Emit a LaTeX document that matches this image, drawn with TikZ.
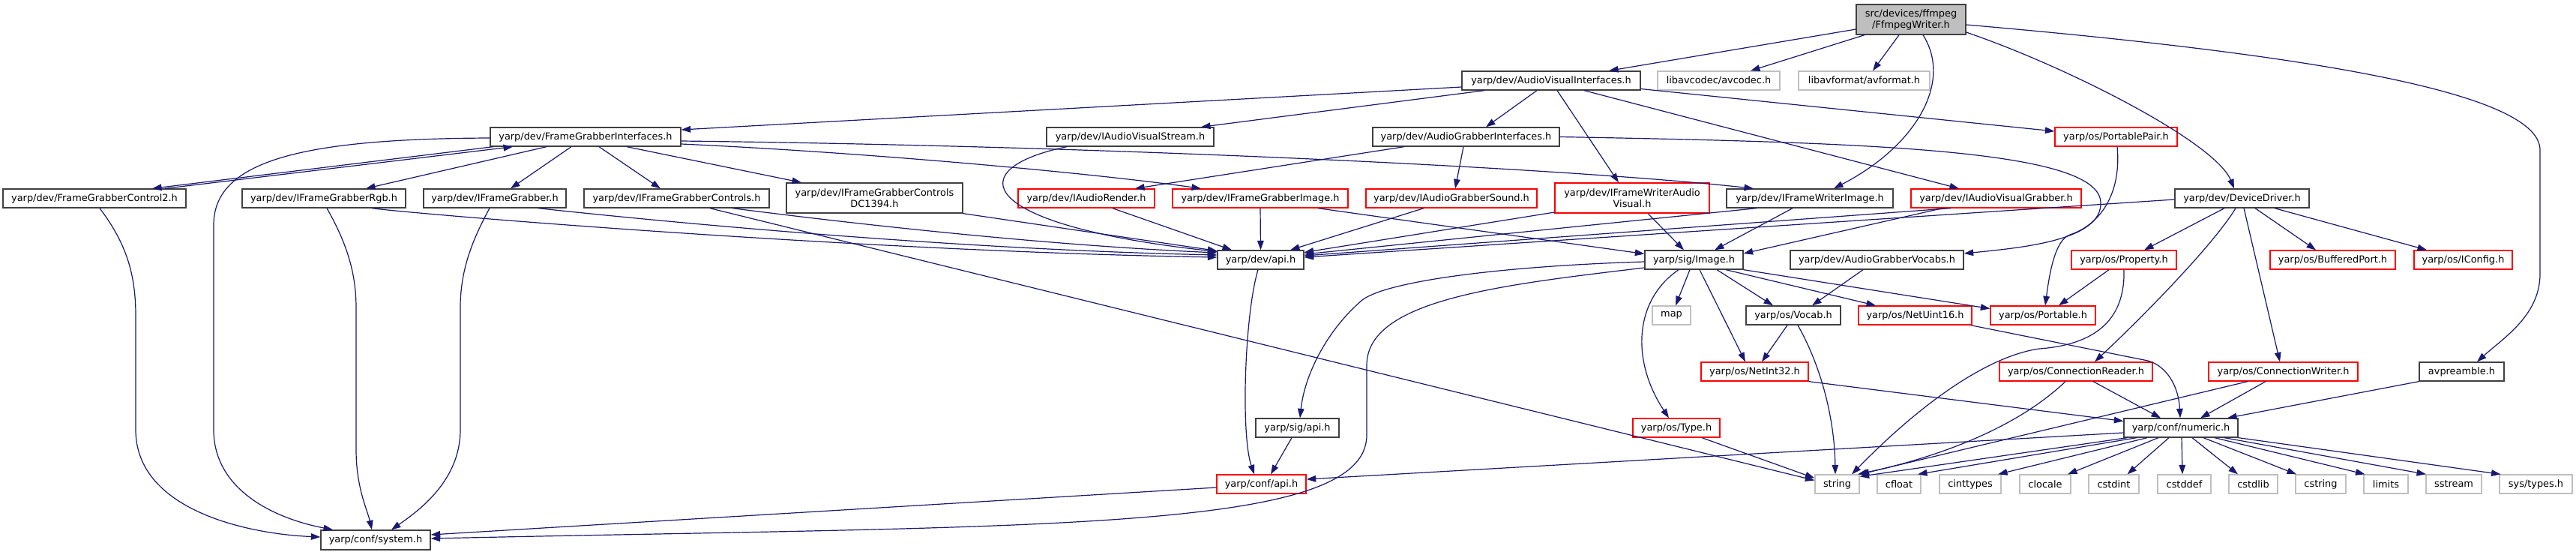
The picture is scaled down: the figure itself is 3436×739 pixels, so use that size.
\documentclass[tikz,border=0pt]{standalone}
\usepackage{fontspec}
\setmainfont{DejaVu Sans}
\usetikzlibrary{arrows.meta}
\definecolor{edgec}{HTML}{191970}
\definecolor{bord}{HTML}{404040}
\definecolor{redb}{HTML}{FF0000}
\definecolor{greyb}{HTML}{BFBFBF}
\newcommand\fs{\fontsize{12.9}{15}\selectfont}
\tikzset{
  box/.style={draw, line width=1.3pt, inner sep=0pt, font=\fs, align=center, minimum height=25pt, fill=white},
  bk/.style={box, draw=bord},
  rd/.style={box, draw=redb},
  gy/.style={box, draw=greyb},
  rootbox/.style={box, draw=bord, fill=greyb, minimum height=40pt},
  e/.style={draw=edgec, line width=1.2pt, -{Triangle[length=12.5pt,width=8.6pt]}},
}
\begin{document}
\begin{tikzpicture}[x=1pt,y=-1pt]
\fill[white] (0,0) rectangle (3436,739);
\useasboundingbox (0,0) rectangle (3436,739);
% row 0
\node[rootbox, minimum width=146pt] (root) at (2549,26) {src/devices/ffmpeg\\/FfmpegWriter.h};
% row 1
\node[bk, minimum width=238pt] (avi) at (2069,107.5) {yarp/dev/AudioVisualInterfaces.h};
\node[gy, minimum width=163pt] (avcodec) at (2292.5,107.5) {libavcodec/avcodec.h};
\node[gy, minimum width=175pt] (avformat) at (2486.5,107.5) {libavformat/avformat.h};
% row 2
\node[bk, minimum width=254pt] (fgi) at (781,182.5) {yarp/dev/FrameGrabberInterfaces.h};
\node[bk, minimum width=223pt] (iavs) at (1507.5,182.5) {yarp/dev/IAudioVisualStream.h};
\node[bk, minimum width=249pt] (agi) at (1955.5,182.5) {yarp/dev/AudioGrabberInterfaces.h};
\node[rd, minimum width=163pt] (pp) at (2822.5,182.5) {yarp/os/PortablePair.h};
% row 3
\node[bk, minimum width=244pt] (fgc2) at (126,264.5) {yarp/dev/FrameGrabberControl2.h};
\node[bk, minimum width=218pt] (fgrgb) at (432,264.5) {yarp/dev/IFrameGrabberRgb.h};
\node[bk, minimum width=190pt] (fg) at (660,264.5) {yarp/dev/IFrameGrabber.h};
\node[bk, minimum width=247pt] (fgc) at (902.5,264.5) {yarp/dev/IFrameGrabberControls.h};
\node[bk, minimum width=235pt, minimum height=40pt] (dc) at (1166.5,264) {yarp/dev/IFrameGrabberControls\\DC1394.h};
\node[rd, minimum width=182pt] (ar) at (1449,264.5) {yarp/dev/IAudioRender.h};
\node[rd, minimum width=234pt] (fgimg) at (1681,264.5) {yarp/dev/IFrameGrabberImage.h};
\node[rd, minimum width=228pt] (ags) at (1936,264.5) {yarp/dev/IAudioGrabberSound.h};
\node[rd, minimum width=206pt, minimum height=40pt] (fwav) at (2177,264) {yarp/dev/IFrameWriterAudio\\Visual.h};
\node[bk, minimum width=222pt] (fwi) at (2414,264.5) {yarp/dev/IFrameWriterImage.h};
\node[rd, minimum width=227pt] (avg) at (2662.5,264.5) {yarp/dev/IAudioVisualGrabber.h};
\node[bk, minimum width=179pt] (dd) at (2990.5,264.5) {yarp/dev/DeviceDriver.h};
% row 4
\node[bk, minimum width=115pt] (devapi) at (1681.5,346.5) {yarp/dev/api.h};
\node[bk, minimum width=131pt] (img) at (2259.5,346.5) {yarp/sig/Image.h};
\node[bk, minimum width=231pt] (agv) at (2503.5,346.5) {yarp/dev/AudioGrabberVocabs.h};
\node[rd, minimum width=140pt] (prop) at (2833,346.5) {yarp/os/Property.h};
\node[rd, minimum width=167pt] (bp) at (3111.5,346.5) {yarp/os/BufferedPort.h};
\node[rd, minimum width=131pt] (icfg) at (3285.5,346.5) {yarp/os/IConfig.h};
% row 5
\node[gy, minimum width=51pt] (map) at (2229.5,420.5) {map};
\node[bk, minimum width=126pt] (vocab) at (2392,420.5) {yarp/os/Vocab.h};
\node[rd, minimum width=151pt] (nu16) at (2554.5,420.5) {yarp/os/NetUint16.h};
\node[rd, minimum width=140pt] (portable) at (2725,420.5) {yarp/os/Portable.h};
% row 6
\node[rd, minimum width=143pt] (ni32) at (2340.5,495.5) {yarp/os/NetInt32.h};
\node[rd, minimum width=204pt] (cr) at (2769,495.5) {yarp/os/ConnectionReader.h};
\node[rd, minimum width=199pt] (cw) at (3045.5,495.5) {yarp/os/ConnectionWriter.h};
\node[bk, minimum width=113pt] (avp) at (3283.5,495.5) {avpreamble.h};
% row 7
\node[bk, minimum width=111pt] (sigapi) at (1730.5,570.5) {yarp/sig/api.h};
\node[rd, minimum width=116pt] (type) at (2236,570.5) {yarp/os/Type.h};
\node[bk, minimum width=152pt] (numeric) at (2909,570.5) {yarp/conf/numeric.h};
% row 8
\node[rd, minimum width=119pt] (confapi) at (1682.5,645.5) {yarp/conf/api.h};
\node[gy, minimum width=59pt] (string) at (2450.5,645.5) {string};
\node[gy, minimum width=58pt] (cfloat) at (2533,645.5) {cfloat};
\node[gy, minimum width=82pt] (cinttypes) at (2628,645.5) {cinttypes};
\node[gy, minimum width=68pt] (clocale) at (2728,645.5) {clocale};
\node[gy, minimum width=67pt] (cstdint) at (2819.5,645.5) {cstdint};
\node[gy, minimum width=71pt] (cstddef) at (2913.5,645.5) {cstddef};
\node[gy, minimum width=65pt] (cstdlib) at (3005.5,645.5) {cstdlib};
\node[gy, minimum width=67pt] (cstring) at (3095.5,645.5) {cstring};
\node[gy, minimum width=59pt] (limits) at (3182.5,645.5) {limits};
\node[gy, minimum width=74pt] (sstream) at (3273,645.5) {sstream};
\node[gy, minimum width=97pt] (systypes) at (3382.5,645.5) {sys/types.h};
% row 9
\node[bk, minimum width=146pt, minimum height=26pt] (system) at (501,720) {yarp/conf/system.h};

% ---- edges ----
% root
\draw[e] ([yshift=-13pt]root.west) -- ([xshift=77pt]avi.north);
\draw[e] ([xshift=-62pt]root.south) -- ([xshift=42.5pt]avcodec.north);
\draw[e] ([xshift=-16pt]root.south) -- ([xshift=11.5pt]avformat.north);
\draw[e] ([xshift=16pt]root.south) .. controls (2605,110) and (2555,195) .. ([xshift=32pt]fwi.north);
\draw[e] ([yshift=-17pt]root.east) .. controls (2760,90) and (2955,190) .. ([xshift=-10.5pt]dd.north);
\draw[e] ([yshift=-7pt]root.east) .. controls (3050,70) and (3388,120) .. (3388,200) -- (3388,365) .. controls (3388,420) and (3340,450) .. ([xshift=20.5pt]avp.north);
% AudioVisualInterfaces
\draw[e] ([yshift=-8.5pt]avi.west) -- ([yshift=9.5pt]fgi.east);
\draw[e] ([xshift=-89pt]avi.south) -- ([xshift=94.5pt]iavs.north);
\draw[e] ([xshift=-19pt]avi.south) -- ([xshift=26.5pt]agi.north);
\draw[e] ([xshift=8pt]avi.south) -- ([xshift=-18pt]fwav.north);
\draw[e] ([xshift=44pt]avi.south) -- ([xshift=-49.5pt]avg.north);
\draw[e] ([yshift=-11pt]avi.east) -- ([yshift=7.5pt]pp.west);
% FrameGrabberInterfaces
\draw[e] ([xshift=-123pt]fgi.south) -- ([xshift=77pt]fgc2.north);
\draw[e] ([xshift=94pt]fgc2.north) -- ([xshift=-97pt]fgi.south);
\draw[e] ([xshift=-52pt]fgi.south) -- ([xshift=56pt]fgrgb.north);
\draw[e] ([xshift=-19pt]fgi.south) -- ([xshift=21pt]fg.north);
\draw[e] ([xshift=18pt]fgi.south) -- ([xshift=-21.5pt]fgc.north);
\draw[e] ([xshift=55pt]fgi.south) -- ([xshift=-97.5pt]dc.north);
\draw[e] ([yshift=-9.5pt]fgi.east) .. controls (1150,203) and (1450,230) .. ([xshift=-79pt]fgimg.north);
\draw[e] ([yshift=-5.5pt]fgi.east) .. controls (1500,195) and (2100,225) .. ([xshift=-75pt]fwi.north);
\draw[e] ([yshift=-1.5pt]fgi.west) .. controls (400,185) and (285,215) .. (285,300) -- (285,573) .. controls (285,650) and (360,690) .. ([xshift=-57pt]system.north);
% to system.h
\draw[e] ([xshift=7pt]fgc2.south) .. controls (165,320) and (181,360) .. (181,420) -- (181,573) .. controls (181,680) and (330,712) .. ([yshift=4pt]system.west);
\draw[e] ([xshift=4pt]fgrgb.south) .. controls (460,320) and (475,360) .. (475,410) -- (475,600) .. controls (475,650) and (490,680) .. ([xshift=-5pt]system.north);
\draw[e] ([xshift=-7pt]fg.south) .. controls (630,320) and (614,360) .. (614,410) -- (614,573) .. controls (614,640) and (560,680) .. ([xshift=21pt]system.north);
% to dev/api.h
\draw[e] ([xshift=64pt]fgrgb.south) .. controls (560,286) and (1150,335) .. ([yshift=3.5pt]devapi.west);
\draw[e] ([xshift=58pt]fg.south) .. controls (850,292) and (1250,332) .. ([yshift=6.5pt]devapi.west);
\draw[e] ([xshift=74.5pt]fgc.south) .. controls (1050,287) and (1350,325) .. ([yshift=9.5pt]devapi.west);
\draw[e] (dc.south east) -- ([yshift=12pt]devapi.west);
\draw[e] ([xshift=-84.5pt]iavs.south) .. controls (1280,225) and (1300,300) .. ([yshift=11pt]devapi.west);
\draw[e] ([xshift=35pt]ar.south) -- ([xshift=-38.5pt]devapi.north);
\draw[e] (fgimg.south) -- (devapi.north);
\draw[e] ([xshift=-37pt]ags.south) -- ([xshift=39.5pt]devapi.north);
\draw[e] ([yshift=-19pt]fwav.west) -- ([yshift=10pt]devapi.east);
\draw[e] ([xshift=-71pt]fwi.south) -- ([yshift=7.5pt]devapi.east);
\draw[e] ([xshift=-60.5pt]avg.south) -- ([yshift=5.5pt]devapi.east);
\draw[e] ([yshift=-1.5pt]dd.west) -- ([yshift=3.5pt]devapi.east);
% to Image.h
\draw[e] ([xshift=77pt]fgimg.south) -- ([yshift=8pt]img.west);
\draw[e] ([xshift=21pt]fwav.south) -- ([xshift=-13.5pt]img.north);
\draw[e] ([xshift=-23pt]fwi.south) -- ([xshift=27.5pt]img.north);
\draw[e] ([xshift=-71.5pt]avg.south) -- ([yshift=8.5pt]img.east);
% AudioGrabberInterfaces
\draw[e] ([xshift=-82.5pt]agi.south) -- ([xshift=65pt]ar.north);
\draw[e] ([xshift=-3.5pt]agi.south) -- ([xshift=5pt]ags.north);
\draw[e] (agi.east) .. controls (2500,190) and (2800,200) .. (2802,270) .. controls (2804,320) and (2700,330) .. ([yshift=8.5pt]agv.east);
% PortablePair
\draw[e] ([xshift=1.5pt]pp.south) .. controls (2830,260) and (2800,300) .. (2761,313) .. controls (2740,320) and (2733,370) .. ([xshift=3pt]portable.north);
% Image.h
\draw[e] ([xshift=-5.5pt]img.south) -- ([xshift=5.5pt]map.north);
\draw[e] ([xshift=30.5pt]img.south) -- ([xshift=-27pt]vocab.north);
\draw[e] ([xshift=7.5pt]img.south) -- ([xshift=-12.5pt]ni32.north);
\draw[e] ([xshift=42.5pt]img.south) -- ([xshift=-52.5pt]nu16.north);
\draw[e] (img.south east) -- ([yshift=9pt]portable.west);
\draw[e] ([xshift=-20.5pt]img.south) .. controls (2180,400) and (2175,480) .. ([xshift=-10pt]type.north);
\draw[e] ([yshift=-2.5pt]img.west) .. controls (2000,355) and (1850,375) .. (1817,400) .. controls (1770,440) and (1740,500) .. ([xshift=3.5pt]sigapi.north);
\draw[e] ([yshift=-10.5pt]img.west) .. controls (2000,380) and (1823,400) .. (1823,487) -- (1823,580) .. controls (1823,710) and (1400,700) .. ([yshift=2pt]system.east);
% AudioGrabberVocabs / Vocab
\draw[e] ([xshift=-18.5pt]agv.south) -- ([xshift=25pt]vocab.north);
\draw[e] ([xshift=-8pt]vocab.south) -- ([xshift=9.5pt]ni32.north);
\draw[e] ([xshift=6pt]vocab.south) .. controls (2430,490) and (2447,560) .. ([xshift=-2.5pt]string.north);
% NetUint16 / NetInt32
\draw[e] ([xshift=-2pt]nu16.south east) -- (2865,481) .. controls (2890,488) and (2906,515) .. ([xshift=-1pt]numeric.north);
\draw[e] (ni32.south east) -- ([yshift=9pt]numeric.west);
% ConnectionReader
\draw[e] ([xshift=-14pt]cr.south) .. controls (2680,580) and (2560,615) .. ([xshift=27.5pt]string.north);
\draw[e] ([xshift=23pt]cr.south) -- ([xshift=-27pt]numeric.north);
% Property
\draw[e] ([xshift=-20pt]prop.south) -- ([xshift=21pt]portable.north);
\draw[e] (prop.south) .. controls (2835,430) and (2790,460) .. (2720,465) .. controls (2650,475) and (2560,540) .. ([xshift=19.5pt]string.north);
% DeviceDriver
\draw[e] ([xshift=-23.5pt]dd.south) -- ([xshift=27pt]prop.north);
\draw[e] ([xshift=-8.5pt]dd.south) .. controls (2950,330) and (2850,430) .. ([xshift=25pt]cr.north);
\draw[e] ([xshift=2.5pt]dd.south) -- ([xshift=-4.5pt]cw.north);
\draw[e] ([xshift=17.5pt]dd.south) -- ([xshift=-22.5pt]bp.north);
\draw[e] ([xshift=43.5pt]dd.south) -- ([xshift=-48.5pt]icfg.north);
% ConnectionWriter / avpreamble
\draw[e] ([xshift=-23.5pt]cw.south) -- ([xshift=26pt]numeric.north);
\draw[e] ([xshift=-47.5pt]cw.south) -- (string.north east);
\draw[e] (avp.south west) -- ([xshift=62pt]numeric.north);
% numeric.h
\draw[e] ([yshift=-6.5pt]numeric.west) -- ([yshift=6.5pt]confapi.east);
\draw[e] ([xshift=5pt]numeric.south west) -- ([yshift=-3pt]string.north east);
\draw[e] ([xshift=-59pt]numeric.south) -- ([xshift=25pt]cfloat.north);
\draw[e] ([xshift=-45pt]numeric.south) -- ([xshift=37pt]cinttypes.north);
\draw[e] ([xshift=-30pt]numeric.south) -- ([xshift=30pt]clocale.north);
\draw[e] ([xshift=-16pt]numeric.south) -- ([xshift=18pt]cstdint.north);
\draw[e] ([xshift=1pt]numeric.south) -- ([xshift=-2.5pt]cstddef.north);
\draw[e] ([xshift=15pt]numeric.south) -- ([xshift=-20.5pt]cstdlib.north);
\draw[e] ([xshift=30pt]numeric.south) -- ([xshift=-32.5pt]cstring.north);
\draw[e] ([xshift=45pt]numeric.south) -- ([xshift=-28pt]limits.north);
\draw[e] ([xshift=58pt]numeric.south) -- ([xshift=-37pt]sstream.north);
\draw[e] (numeric.south east) -- ([xshift=-47pt]systypes.north);
% Type.h, IFrameGrabberControls -> string
\draw[e] ([xshift=34pt]type.south) -- ([yshift=8pt]string.west);
\draw[e] ([xshift=44.5pt]fgc.south) -- ([yshift=5pt]string.west);
% api chains
\draw[e] ([xshift=-3.5pt]devapi.south) .. controls (1660,420) and (1655,580) .. ([xshift=-9.5pt]confapi.north);
\draw[e] ([xshift=-7.5pt]sigapi.south) -- ([xshift=12.5pt]confapi.north);
\draw[e] ([yshift=-4.5pt]confapi.west) -- ([yshift=7pt]system.east);
\end{tikzpicture}
\end{document}
